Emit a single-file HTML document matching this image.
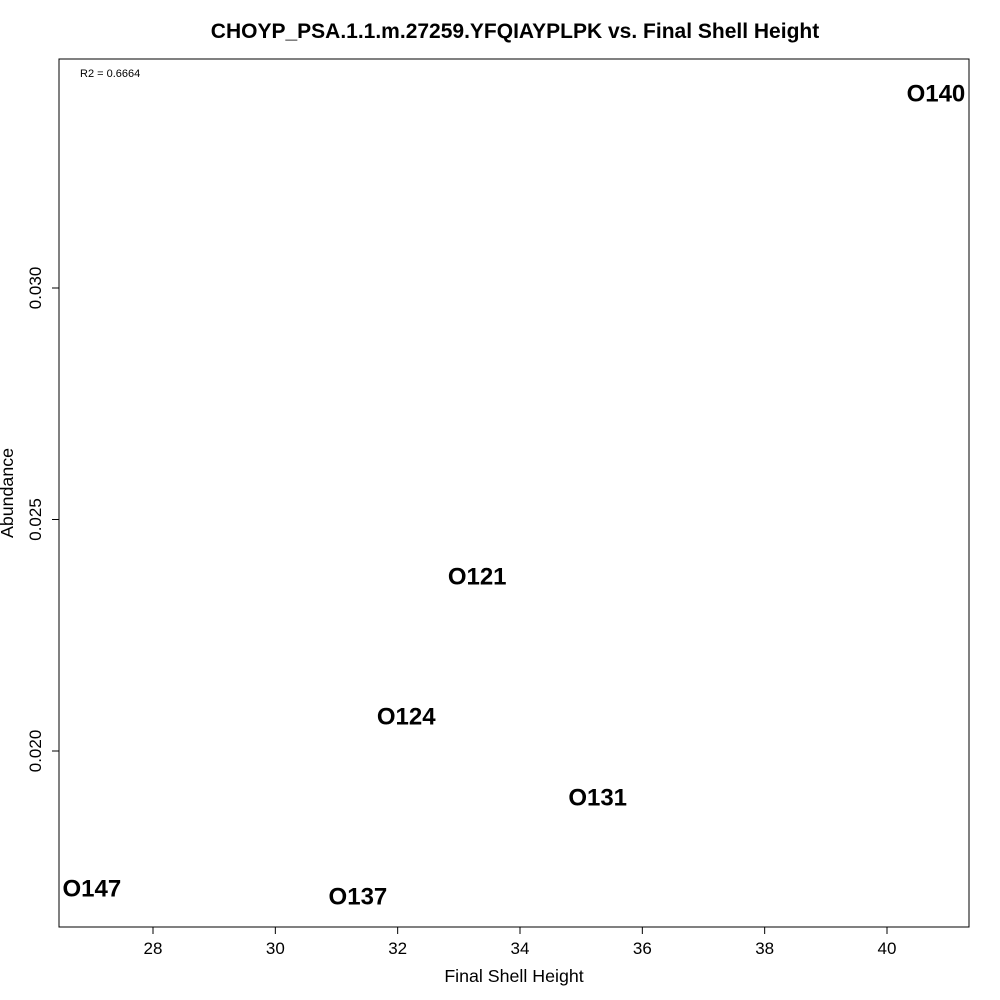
<!DOCTYPE html>
<html><head><meta charset="utf-8">
<style>
html,body{margin:0;padding:0;background:#fff;}
svg{display:block;font-family:"Liberation Sans",Arial,sans-serif;}
</style></head>
<body>
<svg id="chart" width="1000" height="1000" viewBox="0 0 1000 1000">
<rect x="0" y="0" width="1000" height="1000" fill="#fff"/>
<text x="515" y="38" text-anchor="middle" font-size="21" font-weight="bold">CHOYP_PSA.1.1.m.27259.YFQIAYPLPK vs. Final Shell Height</text>
<rect x="59" y="59" width="910" height="868" fill="none" stroke="#000" stroke-width="1"/>
<text x="80" y="77" font-size="11">R2 = 0.6664</text>
<text x="514" y="982" text-anchor="middle" font-size="17.8">Final Shell Height</text>
<text transform="translate(13,493) rotate(-90)" text-anchor="middle" font-size="17.8">Abundance</text>
<g id="xaxis"></g>
<g id="yaxis"></g>
<g id="points"></g>
</svg>
<script>
const sampleNames = ["O140","O121","O124","O131","O147","O137"];
const shellHeights = [40.8, 33.3, 32.14, 35.27, 27.0, 31.35];
const abundances = [0.03421, 0.02378, 0.02076, 0.01901, 0.01704, 0.01687];
const xTicks = [28,30,32,34,36,38,40];
const yTicks = [0.020,0.025,0.030];
const yTickLabels = ["0.020","0.025","0.030"];

const NS="http://www.w3.org/2000/svg";
function xs(v){return 153+(v-28)*(887-153)/12;}
function ys(v){return 751-(v-0.020)*(751-288)/0.010;}
function mk(tag,attrs,parent,txt){const e=document.createElementNS(NS,tag);for(const k in attrs)e.setAttribute(k,attrs[k]);if(txt!==undefined)e.textContent=txt;parent.appendChild(e);return e;}

const gx=document.getElementById('xaxis');
mk('line',{x1:xs(xTicks[0]),x2:xs(xTicks[xTicks.length-1]),y1:927,y2:927,stroke:'#000'},gx);
xTicks.forEach(t=>{
  const l=mk('line',{x1:xs(t),x2:xs(t),y1:927,y2:934,stroke:'#000'},gx);
  
  
  const tx=mk('text',{x:xs(t),y:954,'text-anchor':'middle','font-size':17},gx,String(t));
  
  
});
const gy=document.getElementById('yaxis');
mk('line',{x1:59,x2:59,y1:ys(yTicks[0]),y2:ys(yTicks[yTicks.length-1]),stroke:'#000'},gy);
yTicks.forEach((t,i)=>{
  const l=mk('line',{x1:52,x2:59,y1:ys(t),y2:ys(t),stroke:'#000'},gy);
  
  
  const tx=mk('text',{transform:`translate(41,${ys(t)}) rotate(-90)`,'text-anchor':'middle','font-size':17},gy,yTickLabels[i]);
  
  
});
const gp=document.getElementById('points');
sampleNames.forEach((n,i)=>{
  const tx=mk('text',{x:xs(shellHeights[i]),y:ys(abundances[i])+8.5,'text-anchor':'middle','font-size':24,'font-weight':'bold'},gp,n);
  
  
});
</script>
</body></html>
